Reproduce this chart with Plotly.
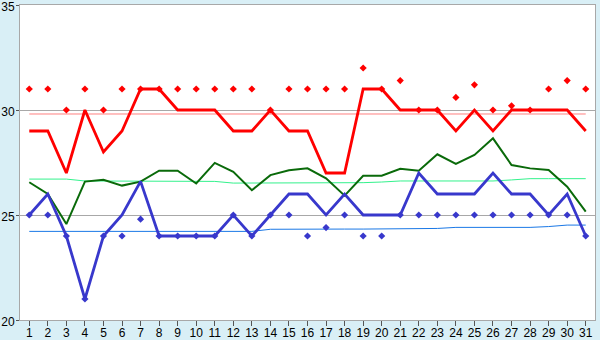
import plotly.graph_objects as go

days = list(range(1, 32))

red_line = [29, 29, 27, 30, 28, 29, 31, 31, 30, 30, 30, 29, 29, 30, 29, 29, 27, 27, 31, 31,
            30, 30, 30, 29, 30, 29, 30, 30, 30, 30, 29]
red_dots = [31, 31, 30, 31, 30, 31, 31, 31, 31, 31, 31, 31, 31, 30, 31, 31, 31, 31, 32, 31,
            31.4, 30, 30, 30.6, 31.2, 30, 30.2, 30, 31, 31.4, 31]
red_avg = [29.81] * 31

green_line = [26.56, 26.0, 24.57, 26.59, 26.68, 26.4, 26.59, 27.11, 27.11, 26.5, 27.48, 27.06,
              26.18, 26.9, 27.13, 27.22, 26.75, 25.92, 26.87, 26.87, 27.2, 27.11, 27.89, 27.43,
              27.86, 28.65, 27.38, 27.22, 27.14, 26.35, 25.16]
green_avg = [26.71, 26.71, 26.71, 26.62, 26.62, 26.62, 26.62, 26.62, 26.62, 26.62, 26.6, 26.52,
             26.52, 26.52, 26.52, 26.52, 26.52, 26.52, 26.54, 26.57, 26.62, 26.62, 26.62, 26.62,
             26.62, 26.62, 26.67, 26.73, 26.73, 26.73, 26.73]

blue_line = [25, 26, 24, 21, 24, 25, 26.6, 24, 24, 24, 24, 25, 24, 25, 26, 26, 25, 26, 25, 25,
             25, 27, 26, 26, 26, 27, 26, 26, 25, 26, 24]
blue_dots = [25, 25, 24, 21, 24, 24, 24.8, 24, 24, 24, 24, 25, 24, 25, 25, 24, 24.4, 25, 24, 24,
             25, 25, 25, 25, 25, 25, 25, 25, 25, 25, 24]
blue_avg = [24.22, 24.22, 24.22, 24.22, 24.22, 24.22, 24.22, 24.22, 24.22, 24.22, 24.22, 24.22,
            24.22, 24.32, 24.33, 24.33, 24.33, 24.33, 24.33, 24.33, 24.33, 24.33, 24.36, 24.41,
            24.41, 24.41, 24.41, 24.41, 24.45, 24.52, 24.52]

y_ticks = [20, 25, 30, 35]

fig = go.Figure()

fig.add_trace(go.Scatter(x=days, y=red_avg, mode="lines", line=dict(color="#ff8080", width=1)))
fig.add_trace(go.Scatter(x=days, y=green_avg, mode="lines", line=dict(color="#33f28c", width=1)))
fig.add_trace(go.Scatter(x=days, y=blue_avg, mode="lines", line=dict(color="#1a78e6", width=1)))

fig.add_trace(go.Scatter(x=days, y=green_line, mode="lines",
                         line=dict(color="#0a6a0a", width=2)))
fig.add_trace(go.Scatter(x=days, y=red_line, mode="lines",
                         line=dict(color="#ff0000", width=2.8)))
fig.add_trace(go.Scatter(x=days, y=blue_line, mode="lines",
                         line=dict(color="#3838cc", width=2.8)))

fig.add_trace(go.Scatter(x=days, y=red_dots, mode="markers",
                         marker=dict(symbol="diamond", size=5.5, color="#ff0000")))
fig.add_trace(go.Scatter(x=days, y=blue_dots, mode="markers",
                         marker=dict(symbol="diamond", size=5.5, color="#3838cc")))

fig.update_layout(
    width=600, height=340,
    margin=dict(l=20, r=5, t=5, b=20),
    paper_bgcolor="#d9eff6",
    plot_bgcolor="#ffffff",
    showlegend=False,
    hovermode=False,
    font=dict(family="Liberation Sans", size=12, color="#000000"),
)
fig.update_xaxes(
    range=[0.5, 31.5], tickmode="array", tickvals=days, ticktext=[str(d) for d in days],
    showgrid=False, zeroline=False, automargin=False,
    showline=True, linecolor="#a8a8a8", linewidth=1, mirror=True,
    ticks="outside", ticklen=5, tickcolor="#555555", tickwidth=1,
    ticklabeloverflow="allow", ticklabelstandoff=-3,
)
fig.update_yaxes(
    range=[20, 35], tickmode="array", tickvals=y_ticks, ticktext=[str(v) for v in y_ticks],
    showgrid=True, gridcolor="#a8a8a8", gridwidth=1, zeroline=False, automargin=False,
    showline=True, linecolor="#a8a8a8", linewidth=1, mirror=True,
    ticks="outside", ticklen=3, tickcolor="#555555", tickwidth=1,
    ticklabeloverflow="allow", ticklabelstandoff=-1, ticklabelshift=2,
)

fig.write_html("out.html")
